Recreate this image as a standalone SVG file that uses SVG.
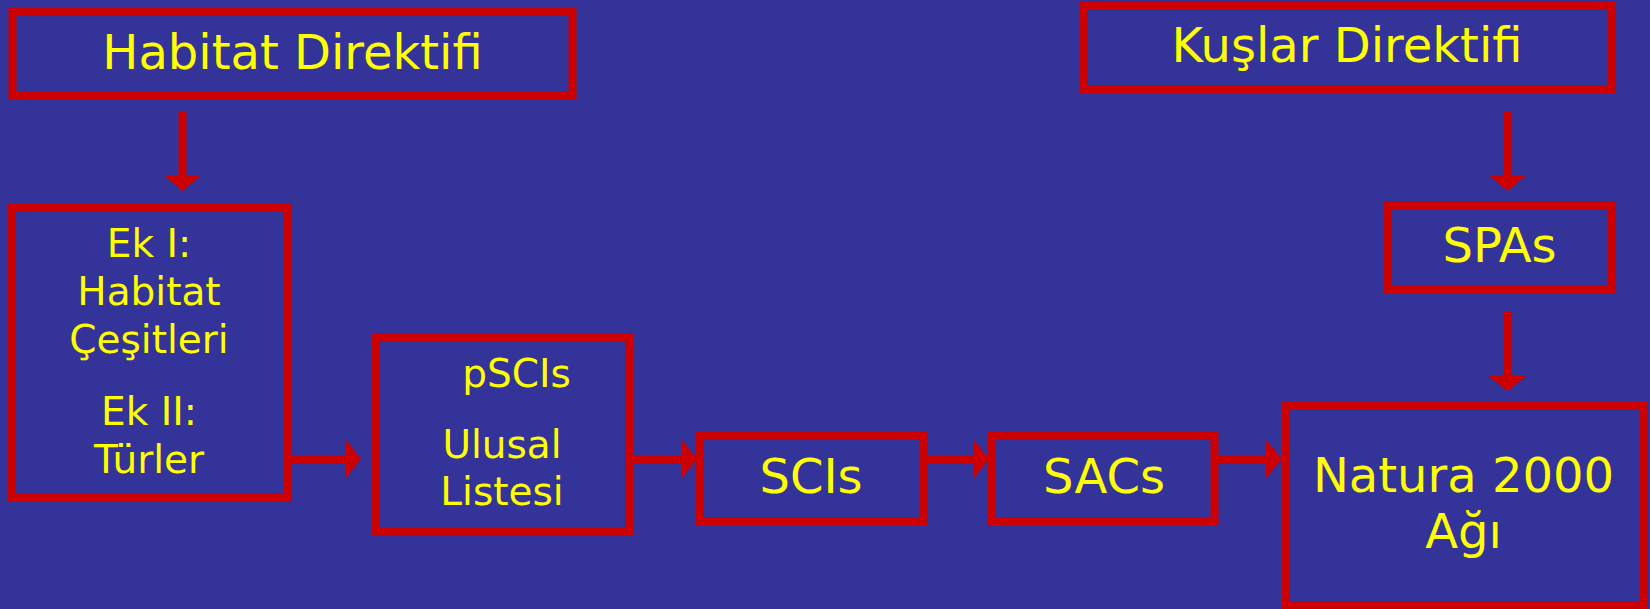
<svg xmlns="http://www.w3.org/2000/svg" width="1650" height="609" viewBox="0 0 1650 609">
<defs>
<style>
.box{fill:none;stroke:#CC0000;stroke-width:8}
.t{font-family:"DejaVu Sans","Verdana",sans-serif;fill:#FFFF00;text-anchor:middle}
.big{font-size:48px}
.sm{font-size:39px}
.sh{stroke:#CC0000;stroke-width:8;fill:none}
.hd{fill:#CC0000}
</style>
</defs>
<rect x="0" y="0" width="1650" height="609" fill="#333399"/>
<g id="connectors">
<line class="sh" x1="182.5" y1="111" x2="182.5" y2="177"/>
<polygon class="hd" points="163.5,175 201.5,175 182.5,191"/>
<line class="sh" x1="1507.5" y1="111" x2="1507.5" y2="177"/>
<polygon class="hd" points="1488.5,175 1526.5,175 1507.5,191"/>
<line class="sh" x1="1507.5" y1="312" x2="1507.5" y2="378"/>
<polygon class="hd" points="1488.5,376 1526.5,376 1507.5,391"/>
<line class="sh" x1="291" y1="459" x2="348" y2="459"/>
<polygon class="hd" points="346,440 346,478 361,459"/>
<line class="sh" x1="633" y1="459" x2="684" y2="459"/>
<polygon class="hd" points="682,440 682,478 697,459"/>
<line class="sh" x1="927" y1="459" x2="976" y2="459"/>
<polygon class="hd" points="974,440 974,478 989,459"/>
<line class="sh" x1="1218" y1="459" x2="1268" y2="459"/>
<polygon class="hd" points="1266,440 1266,478 1282,459"/>
</g>
<g id="habitat-direktifi">
<rect class="box" x="12.5" y="11.5" width="560" height="84.5"/>
<text class="t big" x="292.5" y="69">Habitat Direktifi</text>
</g>
<g id="kuslar-direktifi">
<rect class="box" x="1083.5" y="5.5" width="527.5" height="83.5"/>
<text class="t big" x="1347" y="62">Kuşlar Direktifi</text>
</g>
<g id="ek">
<rect class="box" x="12" y="207" width="275" height="291"/>
<text class="t sm" x="149" y="256.5">Ek I:</text>
<text class="t sm" x="149" y="305">Habitat</text>
<text class="t sm" x="149" y="353">Çeşitleri</text>
<text class="t sm" x="149" y="425">Ek II:</text>
<text class="t sm" x="149" y="472.5">Türler</text>
</g>
<g id="pscis">
<rect class="box" x="376" y="338" width="253" height="193"/>
<text class="t sm" x="516.5" y="386.5">pSCIs</text>
<text class="t sm" x="502" y="458">Ulusal</text>
<text class="t sm" x="502" y="505">Listesi</text>
</g>
<g id="scis">
<rect class="box" x="699.5" y="436" width="223.5" height="85"/>
<text class="t big" x="811" y="493">SCIs</text>
</g>
<g id="sacs">
<rect class="box" x="992" y="436" width="222.5" height="85"/>
<text class="t big" x="1104" y="493">SACs</text>
</g>
<g id="spas">
<rect class="box" x="1387.5" y="205" width="223.5" height="85"/>
<text class="t big" x="1499.5" y="262">SPAs</text>
</g>
<g id="natura">
<rect class="box" x="1286" y="406" width="358" height="199"/>
<text class="t big" x="1463.5" y="492">Natura 2000</text>
<text class="t big" x="1463.5" y="548">Ağı</text>
</g>
</svg>
